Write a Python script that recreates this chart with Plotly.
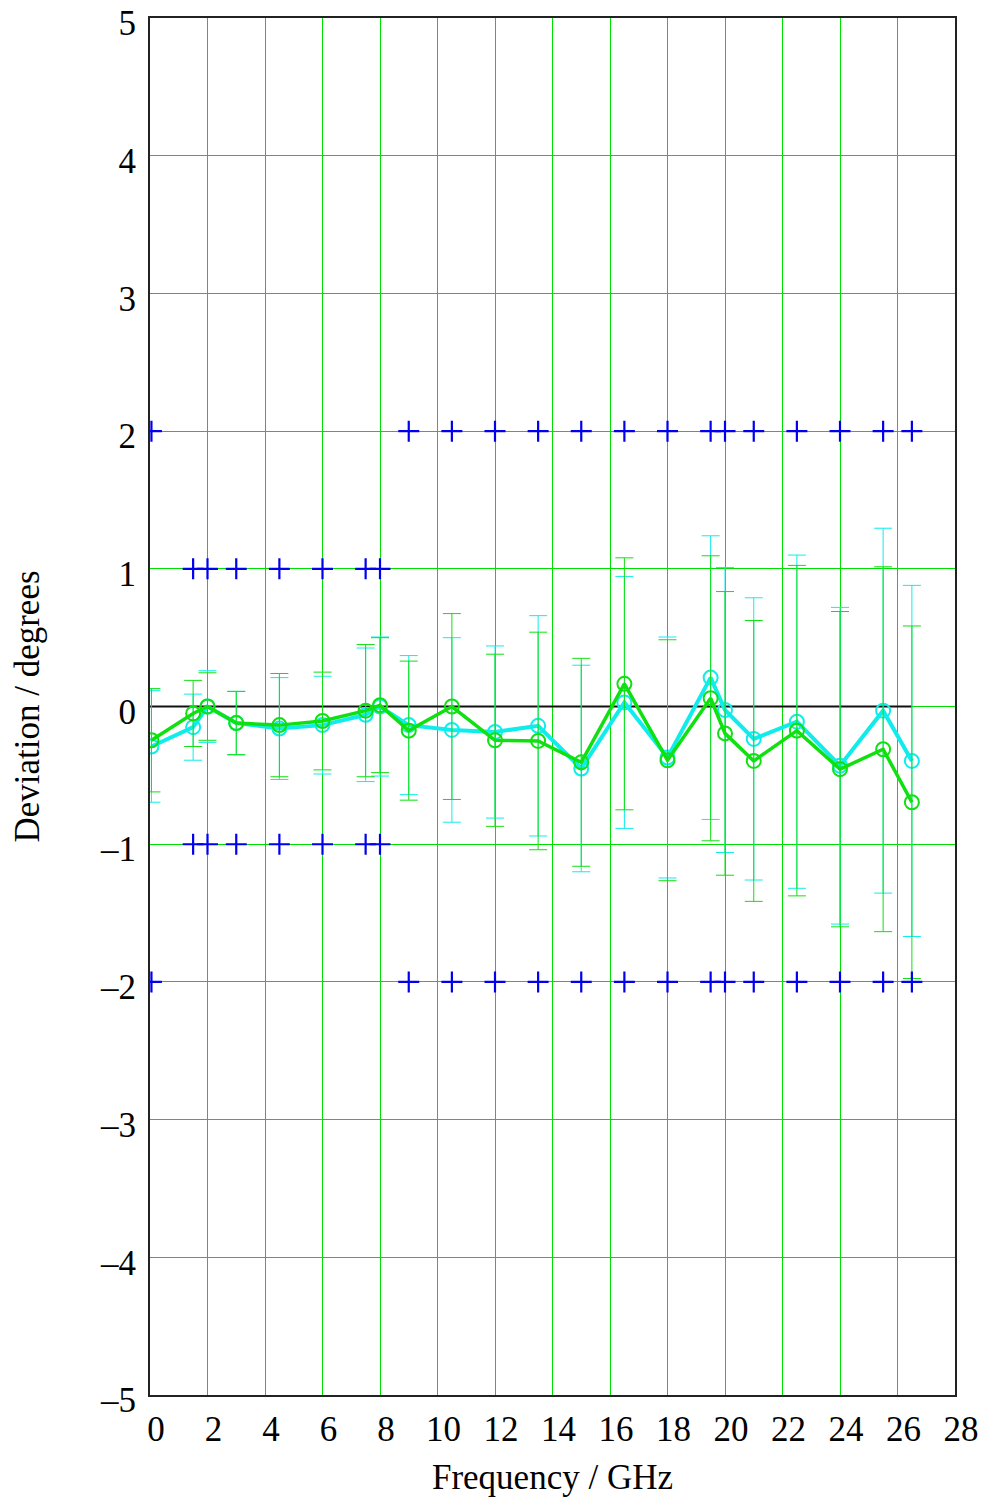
import plotly.graph_objects as go

# Frequencies (GHz)
freq = [0.05, 1.5, 2, 3, 4.5, 6, 7.5, 8, 9, 10.5, 12, 13.5, 15, 16.5, 18,
        19.5, 20, 21, 22.5, 24, 25.5, 26.5]

# Cyan series: deviation and uncertainty (degrees)
cyan_dev = [-0.29, -0.15, 0.0, -0.12, -0.16, -0.135, -0.06, 0.0, -0.135, -0.17,
            -0.185, -0.14, -0.45, 0.03, -0.37, 0.21, -0.025, -0.235, -0.11,
            -0.43, -0.03, -0.395]
cyan_err = [0.405, 0.24, 0.26, 0.23, 0.37, 0.355, 0.485, 0.505, 0.505, 0.67,
            0.625, 0.80, 0.75, 0.915, 0.875, 1.03, 1.035, 1.025, 1.21,
            1.15, 1.325, 1.275]

# Green series: deviation and uncertainty (degrees)
green_dev = [-0.245, -0.05, 0.0, -0.12, -0.135, -0.105, -0.03, 0.01, -0.175, 0.0,
             -0.245, -0.25, -0.405, 0.165, -0.39, 0.06, -0.195, -0.395, -0.175,
             -0.455, -0.31, -0.695]
green_err = [0.375, 0.24, 0.245, 0.23, 0.375, 0.355, 0.48, 0.49, 0.505, 0.675,
             0.625, 0.79, 0.755, 0.915, 0.875, 1.035, 1.03, 1.02, 1.2,
             1.145, 1.325, 1.28]

# Specification limits (degrees)
limit = [2, 1, 1, 1, 1, 1, 1, 1, 2, 2, 2, 2, 2, 2, 2, 2, 2, 2, 2, 2, 2, 2]
limit_neg = [-v for v in limit]

# Reference line
ref_x = [0.0, 26.5]
ref_y = [0, 0]

x_ticks = list(range(0, 29, 2))
y_ticks = list(range(-5, 6))
y_ticktext = [("–" + str(-v)) if v < 0 else str(v) for v in y_ticks]

FONT = "Liberation Serif, Times New Roman, serif"
GRID = "#00e000"
CYAN = "#10ecec"
GREEN = "#10e010"

fig = go.Figure()

fig.add_trace(go.Scatter(x=ref_x, y=ref_y, mode="lines",
                         line=dict(color="#111111", width=2), hoverinfo="skip",
                         showlegend=False))

fig.add_trace(go.Scatter(
    x=freq, y=cyan_dev, mode="lines+markers",
    line=dict(color=CYAN, width=4),
    marker=dict(symbol="circle-open", size=14, color=CYAN, line=dict(width=2)),
    error_y=dict(type="data", array=cyan_err, visible=True, color=CYAN,
                 thickness=1, width=9),
    showlegend=False))

fig.add_trace(go.Scatter(
    x=freq, y=green_dev, mode="lines+markers",
    line=dict(color=GREEN, width=3.5),
    marker=dict(symbol="circle-open", size=14, color=GREEN, line=dict(width=2)),
    error_y=dict(type="data", array=green_err, visible=True, color=GREEN,
                 thickness=1, width=9),
    showlegend=False))

for lim in (limit, limit_neg):
    fig.add_trace(go.Scatter(
        x=freq, y=lim, mode="markers",
        marker=dict(symbol="cross-thin-open", size=15, color="#0000ee",
                    line=dict(width=2.2, color="#0000ee")),
        showlegend=False))

fig.update_layout(
    width=982, height=1497,
    margin=dict(l=150, r=27, t=18, b=102, autoexpand=False),
    paper_bgcolor="white", plot_bgcolor="white",
    font=dict(family=FONT, size=35, color="black"),
)

fig.update_xaxes(
    range=[0, 28], tickvals=x_ticks, ticktext=[str(v) for v in x_ticks],
    showgrid=True, gridcolor=GRID, gridwidth=1, zeroline=False,
    showline=True, linecolor="#222222", linewidth=2, mirror=True,
    ticks="", ticklabelshift=6, ticklabelstandoff=2, automargin=False,
    tickfont=dict(family=FONT, size=35),
    title=dict(text="Frequency / GHz", font=dict(family=FONT, size=35), standoff=28),
)

fig.update_yaxes(
    range=[-5, 5.0005], tickvals=y_ticks, ticktext=y_ticktext,
    showgrid=True, gridcolor=GRID, gridwidth=1, zeroline=False,
    showline=True, linecolor="#222222", linewidth=2, mirror=True,
    ticks="", ticklabelstandoff=5, ticklabelshift=5, ticklabeloverflow="allow",
    automargin=False,
    tickfont=dict(family=FONT, size=35),
    title=dict(text="Deviation / degrees", font=dict(family=FONT, size=35), standoff=50),
)

fig.write_html("out.html", config={"displayModeBar": False},
               post_script="document.body.style.margin='0';")
